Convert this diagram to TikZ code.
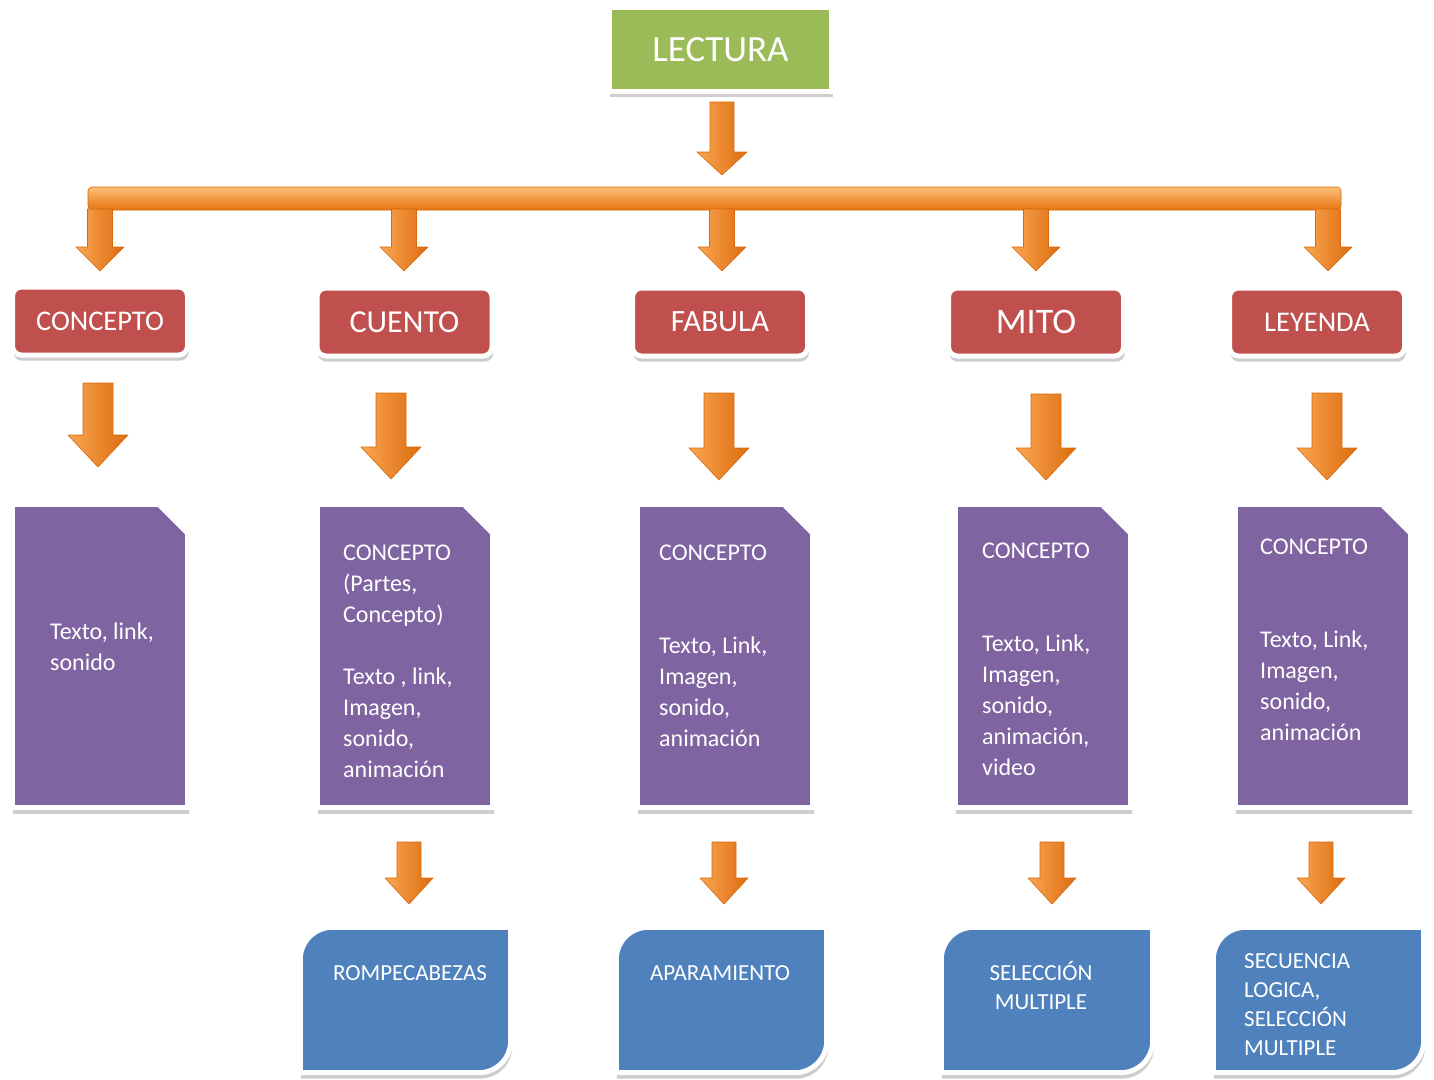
\documentclass[tikz,border=0pt]{standalone}
\usepackage{fontspec}
\setmainfont{Carlito}
\usetikzlibrary{shadows}
\definecolor{lgreen}{HTML}{9BBB59}
\definecolor{lred}{HTML}{C0504D}
\definecolor{lpurple}{HTML}{8064A2}
\definecolor{lblue}{HTML}{4F81BD}
\definecolor{orL}{HTML}{FAA652}
\definecolor{orM}{HTML}{F38D2C}
\definecolor{orR}{HTML}{DC6C0E}
\definecolor{orD}{HTML}{D9690C}
\definecolor{orT}{HTML}{FDC07A}
\definecolor{orB}{HTML}{E5720F}
\tikzset{
  boxshadow/.style={drop shadow={shadow xshift=1pt, shadow yshift=-5.5pt, shadow scale=1.005, opacity=0.28, fill=black!70}},
  greenbox/.style={rectangle, fill=lgreen, draw=white, line width=5pt, boxshadow, minimum width=222pt, minimum height=84pt, text=white, inner sep=0pt, font=\fontsize{37}{44}\selectfont},
  redbox/.style={rectangle, rounded corners=9pt, fill=lred, draw=white, line width=5pt, boxshadow, minimum width=175pt, minimum height=68pt, text=white, inner sep=0pt},
  holder/.style={rectangle, draw=none, inner sep=0pt},
  purplefill/.style={fill=lpurple, draw=white, line width=5pt, line join=miter, boxshadow},
  bluefill/.style={fill=lblue, draw=white, line width=5pt, boxshadow},
  ptext/.style={anchor=north west, inner sep=0pt, align=left, text=white, font=\fontsize{24}{31}\selectfont},
  btext/.style={inner sep=0pt, text=white, font=\fontsize{23}{29}\selectfont},
  arrowshade/.style={left color=orL, middle color=orM, right color=orR, draw=orD, line width=0.6pt, line join=round},
  barshade/.style={rectangle, rounded corners=4pt, top color=orT, bottom color=orB, draw=orD, line width=0.6pt, inner sep=0pt},
  pics/barrow/.style n args={4}{code={
    \path[arrowshade] (-#2,0) -- (#2,0) -- (#2,{#1-#4}) -- (#3,{#1-#4}) -- (0,#1)
      -- (-#3,{#1-#4}) -- (-#2,{#1-#4}) -- cycle;
  }}
}
\begin{document}
\begin{tikzpicture}[x=1pt,y=-1pt]
\fill[white] (0,0) rectangle (1434,1079);
\useasboundingbox (0,0) rectangle (1434,1079);

% top box
\node[greenbox] (lectura) at (720.5,49.5) {LECTURA};

% connector bar and arrows
\pic (atop) at (722,102) {barrow={73}{12}{25}{23}};
\node[barshade, minimum width=1253pt, minimum height=23pt] (bar) at (714.5,198.5) {};
\pic (ab1) at (100,209) {barrow={62}{12.5}{24}{24}};
\pic (ab2) at (404,209) {barrow={62}{12.5}{24}{24}};
\pic (ab3) at (722,209) {barrow={62}{12.5}{24}{24}};
\pic (ab4) at (1036,209) {barrow={62}{12.5}{24}{24}};
\pic (ab5) at (1328,209) {barrow={62}{12.5}{24}{24}};

% red boxes
\node[redbox, font=\fontsize{28.5}{34}\selectfont] (concepto) at (100,321) {CONCEPTO};
\node[redbox, font=\fontsize{32}{38}\selectfont] (cuento) at (404.5,322) {CUENTO};
\node[redbox, font=\fontsize{31}{37}\selectfont] (fabula) at (720,322) {FABULA};
\node[redbox, font=\fontsize{36}{42}\selectfont] (mito) at (1036,322) {MITO};
\node[redbox, font=\fontsize{28.5}{34}\selectfont] (leyenda) at (1317,322) {LEYENDA};

% arrows red -> purple
\pic (ar1) at (98,383) {barrow={84}{15}{30}{32}};
\pic (ar2) at (391,393) {barrow={86}{15}{30}{32}};
\pic (ar3) at (719,393) {barrow={87}{15}{30}{32}};
\pic (ar4) at (1046,394) {barrow={86}{15}{30}{32}};
\pic (ar5) at (1327,393) {barrow={87}{15}{30}{32}};

% purple boxes
\foreach \n/\cx in {p1/100, p2/405, p3/725, p4/1043, p5/1323}{
  \node[holder, minimum width=175pt, minimum height=303pt] (\n) at (\cx,656) {};
  \path[purplefill] (\n.south west) -- (\n.north west) -- ([xshift=-29pt]\n.north east)
     -- ([yshift=-29pt]\n.north east) -- (\n.south east) -- cycle;
}
\node[ptext] (t1) at (50,622.7) {Texto, link,\\sonido};
\node[ptext] (t2) at (343,544.3) {CONCEPTO\\(Partes,\\Concepto)\\[31pt]Texto , link,\\Imagen,\\sonido,\\animación};
\node[ptext] (t3) at (659,544.3) {CONCEPTO\\[62pt]Texto, Link,\\Imagen,\\sonido,\\animación};
\node[ptext] (t4) at (982,542.3) {CONCEPTO\\[62pt]Texto, Link,\\Imagen,\\sonido,\\animación,\\video};
\node[ptext] (t5) at (1260,538.3) {CONCEPTO\\[62pt]Texto, Link,\\Imagen,\\sonido,\\animación};

% arrows purple -> blue
\pic (ap2) at (409,842) {barrow={62}{12}{24}{26}};
\pic (ap3) at (724,842) {barrow={62}{12}{24}{26}};
\pic (ap4) at (1052,842) {barrow={62}{12}{24}{26}};
\pic (ap5) at (1321,842) {barrow={62}{12}{24}{26}};

% blue boxes
\foreach \n/\cx/\w in {b1/405.5/210, b2/721.5/210, b3/1047/211, b4/1318.5/210}{
  \node[holder, minimum width=\w pt, minimum height=145pt] (\n) at (\cx,1000) {};
  \path[bluefill] (\n.south west) -- ([yshift=-32pt]\n.north west)
     .. controls ([yshift=-14.3pt]\n.north west) and ([xshift=14.3pt]\n.north west) .. ([xshift=32pt]\n.north west)
     -- (\n.north east) -- ([yshift=32pt]\n.south east)
     .. controls ([yshift=14.3pt]\n.south east) and ([xshift=-14.3pt]\n.south east) .. ([xshift=-32pt]\n.south east) -- cycle;
}
\node[btext, anchor=north] (bt1) at (410,965.6) {ROMPECABEZAS};
\node[btext, anchor=north] (bt2) at (720,965.6) {APARAMIENTO};
\node[btext, anchor=north, align=center] (bt3) at (1041,961) {SELECCIÓN\\MULTIPLE};
\node[btext, anchor=north west, align=left] (bt4) at (1244,953.6) {SECUENCIA\\LOGICA,\\SELECCIÓN\\MULTIPLE};
\end{tikzpicture}
\end{document}
